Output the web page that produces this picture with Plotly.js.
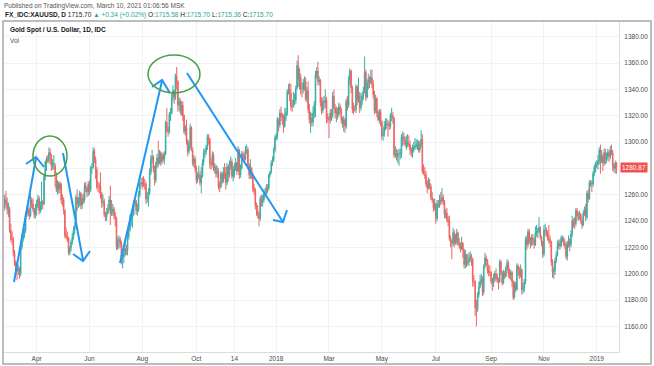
<!DOCTYPE html>
<html>
<head>
<meta charset="utf-8">
<script src="https://cdn.plot.ly/plotly-3.0.1.min.js"></script>
<style>
html,body{margin:0;padding:0;background:#fff;}
#chart{width:654px;height:366px;}
</style>
</head>
<body>
<div id="chart"></div>
<script>
// Daily candles, FX_IDC:XAUUSD, trading days starting 2017-02-24 (weekdays)
const startDate = '2017-02-24';

const open = [
1250,1256,1254,
1248,1249,1233,1226,1226,1216,1209,1203,1202,1204,1200,1220,1226,1229,1233,1245,1249,1247,1244,1256,1253,1249,1245,
1249,1252,1257,1248,1252,1254,1253,1274,1285,1287,1286,1292,1290,1282,1283,1282,1276,1264,1269,1264,
1268,1256,1256,1248,1229,1228,1227,1216,1220,1224,1228,1233,1236,1258,1253,1254,1261,1252,1257,1256,1267,1265,1262,
1268,1264,1280,1281,1293,1287,1279,1266,1266,1266,1261,1254,1255,1245,1243,1246,1249,1256,1246,1247,1249,1244,
1242,1220,1225,1226,1223,1212,1213,1215,1219,1218,1228,1234,1241,1242,1245,1254,1255,1248,1249,1260,1268,
1269,1268,1268,1268,1257,1258,1261,1277,1287,1289,1280,1271,1283,1288,1284,1292,1285,1290,1287,1291,1315,1309,1308,
1321,1322,1334,1339,1334,1350,1346,1328,1331,1323,1328,1320,1308,1311,1301,1293,1297,1311,1294,1284,1287,
1280,1271,1274,1275,1269,1274,1285,1292,1293,1296,1304,1302,1284,1283,1290,1280,1281,1276,1277,1266,1266,1276,
1270,1277,1276,1269,1281,1275,1282,1285,1274,1279,1281,1284,1278,1294,1275,1280,1291,1289,1287,1294,1294,1282,
1275,1280,1275,1265,1263,1252,1248,1245,1242,1257,1254,1256,1261,1262,1266,1265,1275,1277,1284,1286,1294,
1303,1305,1317,1313,1322,1319,1319,1312,1320,1322,1338,1340,1337,1327,1327,1332,1332,1341,1358,1348,1349,1340,1340,
1345,1346,1333,1339,1325,1317,1318,1315,1322,1328,1351,1354,1346,1347,1330,1324,1331,1330,1332,1318,
1318,1317,1322,1320,1335,1326,1322,1323,1321,1327,1324,1317,1314,1317,1312,1331,1328,1347,1354,1341,1325,1325,
1325,1342,1332,1335,1326,1331,1335,1339,1353,1334,1345,1347,1346,1349,1344,1336,1324,1333,1322,1317,1323,
1315,1305,1306,1312,1314,1314,1313,1312,1320,1320,1318,1290,1291,1289,1291,1291,1291,1304,1304,1301,1298,1299,1299,
1298,1294,1292,1294,1296,1297,1298,1299,1294,1298,1302,1278,1276,1275,1268,1265,1269,1266,1258,1256,1250,
1253,1242,1253,1252,1256,1255,1258,1255,1245,1246,1241,1240,1227,1224,1223,1231,1224,1225,1231,1223,1222,1219,
1223,1218,1207,1214,1208,1209,1212,1213,1211,1194,1194,1174,1173,1184,1190,1194,1196,1186,1206,1212,1210,1203,1201,
1201,1194,1193,1197,1200,1196,1196,1194,1209,1201,1193,1200,1198,1204,1208,1200,1199,1201,1194,1182,
1192,1188,1206,1203,1199,1203,1188,1189,1194,1226,1222,1232,1225,1222,1227,1226,1222,1231,1232,1232,1235,1228,1224,
1215,1233,1233,1231,1227,1226,1224,1209,1201,1202,1210,1214,1222,1223,1221,1227,1227,1223,1222,1213,1223,1225,
1222,1230,1240,1238,1238,1248,1244,1244,1245,1240,1237,1246,1249,1243,1261,1257,1269,1269,1268,1276,1281,
1282,1283,1286,1294,1285,1289,1284,1292,1287,1289,1292,1289,1294,1292,1282,1280,1284
];

const high = [
1260,1263,1258,
1254,1251,1238,1232,1228,1218,1210,1209,1207,1205,1222,1230,1233,1235,1247,1250,1252,1250,1261,1258,1257,1250,1253,
1256,1260,1259,1255,1270,1256,1276,1286,1289,1290,1296,1295,1291,1287,1290,1284,1277,1271,1270,1270,
1269,1260,1258,1249,1235,1232,1228,1221,1226,1231,1236,1239,1260,1264,1258,1263,1262,1260,1261,1269,1270,1266,1270,
1271,1282,1284,1296,1295,1289,1281,1270,1269,1277,1262,1260,1257,1247,1250,1253,1259,1267,1256,1253,1251,1247,
1243,1228,1229,1228,1225,1215,1220,1224,1222,1232,1237,1245,1244,1247,1256,1258,1256,1253,1263,1270,1273,
1273,1274,1272,1270,1262,1265,1280,1290,1294,1290,1282,1285,1291,1301,1294,1293,1292,1292,1293,1316,1326,1312,1323,
1326,1337,1343,1340,1352,1357,1347,1334,1333,1331,1331,1321,1313,1317,1302,1301,1314,1312,1296,1290,1289,
1282,1277,1282,1278,1281,1287,1295,1295,1298,1306,1306,1303,1287,1293,1292,1284,1283,1282,1280,1270,1278,1277,
1281,1284,1281,1284,1283,1286,1289,1287,1282,1284,1288,1285,1297,1295,1283,1293,1293,1292,1297,1298,1296,1284,
1287,1281,1277,1268,1265,1254,1252,1247,1259,1260,1260,1264,1265,1268,1268,1276,1278,1286,1289,1296,1305,
1307,1319,1318,1325,1327,1322,1321,1326,1326,1340,1344,1345,1344,1332,1338,1337,1343,1362,1366,1356,1352,1345,1348,
1350,1349,1342,1346,1329,1323,1322,1327,1331,1354,1357,1361,1350,1348,1334,1334,1335,1340,1334,1322,
1320,1325,1325,1338,1340,1329,1327,1326,1330,1329,1326,1319,1320,1318,1333,1335,1350,1356,1355,1343,1330,1328,
1344,1343,1349,1338,1337,1338,1342,1365,1355,1348,1352,1350,1355,1355,1347,1339,1336,1334,1324,1325,1325,
1317,1311,1316,1318,1318,1317,1316,1322,1326,1323,1319,1297,1295,1294,1295,1295,1306,1308,1307,1304,1305,1306,1305,
1301,1296,1298,1300,1303,1302,1302,1301,1301,1309,1306,1283,1281,1278,1271,1273,1272,1268,1262,1257,1257,
1254,1256,1256,1260,1262,1265,1260,1256,1249,1250,1244,1244,1229,1226,1235,1233,1230,1234,1232,1227,1224,1228,
1224,1219,1218,1215,1215,1216,1217,1215,1212,1199,1195,1180,1186,1194,1199,1200,1198,1207,1216,1214,1211,1207,1206,
1202,1197,1200,1202,1204,1200,1197,1211,1210,1202,1203,1202,1206,1211,1210,1204,1203,1202,1195,1194,
1194,1208,1207,1205,1207,1204,1193,1196,1228,1229,1234,1234,1228,1230,1230,1228,1236,1237,1235,1243,1236,1229,1225,
1237,1238,1235,1233,1237,1229,1225,1211,1205,1212,1217,1225,1226,1226,1229,1229,1228,1226,1224,1225,1229,1227,
1233,1244,1242,1243,1250,1250,1247,1248,1246,1243,1248,1251,1253,1263,1264,1271,1271,1271,1278,1283,1285,
1286,1290,1296,1298,1294,1291,1295,1295,1292,1295,1294,1297,1298,1294,1284,1286,1285
];

const low = [
1248,1251,1245,
1243,1231,1224,1222,1213,1206,1200,1195,1199,1196,1198,1218,1224,1227,1231,1243,1244,1241,1243,1250,1247,1242,1242,
1244,1250,1245,1246,1248,1249,1252,1271,1278,1284,1284,1283,1278,1279,1279,1266,1262,1260,1261,1261,
1253,1251,1245,1227,1226,1224,1214,1214,1217,1222,1226,1230,1235,1248,1250,1251,1249,1249,1253,1254,1262,1258,1259,
1260,1262,1276,1280,1284,1272,1264,1262,1261,1257,1250,1251,1243,1240,1240,1245,1248,1237,1244,1244,1241,1236,
1218,1218,1219,1220,1207,1204,1208,1213,1214,1214,1226,1232,1236,1235,1244,1251,1245,1244,1247,1258,1266,
1264,1266,1264,1253,1254,1251,1260,1275,1284,1277,1267,1269,1280,1281,1283,1282,1283,1285,1283,1290,1307,1304,1306,
1316,1321,1331,1329,1332,1340,1323,1324,1321,1320,1316,1306,1305,1298,1289,1291,1295,1293,1282,1281,1277,
1268,1269,1272,1267,1261,1273,1282,1288,1290,1294,1298,1280,1279,1281,1278,1276,1273,1273,1264,1262,1265,1268,
1269,1272,1264,1267,1270,1273,1279,1272,1270,1273,1278,1275,1277,1272,1273,1279,1287,1285,1286,1291,1279,1272,
1272,1272,1262,1260,1249,1244,1242,1236,1240,1251,1251,1254,1258,1259,1261,1263,1273,1276,1282,1285,1292,
1301,1302,1308,1311,1316,1313,1307,1311,1316,1320,1336,1331,1324,1323,1326,1328,1329,1340,1342,1340,1336,1334,1337,
1339,1331,1330,1322,1314,1307,1312,1312,1318,1319,1348,1343,1343,1327,1321,1322,1325,1326,1314,1315,
1303,1314,1316,1318,1325,1318,1315,1317,1319,1321,1314,1311,1308,1307,1310,1324,1326,1343,1337,1322,1321,1323,
1322,1328,1330,1322,1324,1328,1332,1337,1331,1333,1340,1341,1344,1341,1333,1321,1322,1319,1316,1314,1312,
1302,1301,1304,1309,1310,1304,1309,1310,1316,1314,1288,1288,1286,1284,1282,1287,1288,1297,1298,1296,1294,1296,1296,
1290,1289,1288,1292,1294,1295,1294,1292,1292,1296,1276,1275,1272,1266,1261,1264,1264,1256,1254,1247,1248,
1238,1240,1250,1250,1252,1253,1252,1242,1242,1239,1236,1225,1220,1211,1221,1220,1222,1222,1221,1219,1216,1218,
1212,1204,1204,1205,1206,1206,1209,1206,1190,1191,1168,1160,1171,1182,1189,1192,1183,1184,1204,1206,1200,1198,1198,
1192,1187,1190,1194,1194,1193,1188,1193,1199,1191,1192,1196,1197,1202,1197,1196,1195,1190,1180,1181,
1186,1187,1198,1196,1197,1184,1185,1186,1192,1218,1220,1223,1219,1221,1222,1219,1221,1228,1227,1230,1226,1221,1212,
1213,1229,1228,1225,1223,1220,1206,1197,1196,1199,1208,1213,1219,1218,1220,1224,1221,1219,1211,1210,1220,1217,
1220,1228,1235,1234,1236,1241,1240,1241,1238,1234,1236,1244,1240,1241,1254,1256,1266,1262,1266,1274,1277,
1280,1279,1283,1276,1284,1278,1282,1283,1284,1286,1285,1287,1290,1278,1277,1276,1276
];

const close = [
1257,1254,1249,
1249,1233,1226,1226,1216,1209,1203,1202,1204,1200,1220,1226,1229,1233,1245,1249,1247,1244,1256,1253,1249,1245,1249,
1252,1257,1248,1252,1254,1253,1274,1285,1287,1286,1292,1290,1282,1283,1284,1276,1264,1269,1264,1268,
1256,1256,1248,1229,1228,1227,1216,1220,1224,1228,1233,1236,1258,1253,1254,1261,1252,1257,1256,1267,1265,1262,1268,
1264,1280,1281,1293,1287,1279,1266,1266,1266,1261,1254,1255,1245,1243,1246,1249,1256,1246,1247,1249,1244,1242,
1220,1225,1226,1223,1212,1213,1215,1219,1218,1228,1234,1241,1242,1245,1254,1255,1248,1249,1260,1268,1269,
1268,1268,1268,1257,1258,1261,1277,1287,1289,1280,1271,1283,1288,1284,1292,1285,1290,1287,1291,1315,1309,1308,1321,
1322,1334,1339,1334,1350,1346,1328,1331,1323,1328,1320,1308,1311,1301,1293,1297,1311,1294,1284,1287,1280,
1271,1274,1275,1269,1274,1285,1292,1293,1296,1304,1302,1284,1283,1290,1280,1281,1276,1277,1266,1266,1276,1270,
1277,1276,1269,1281,1275,1282,1285,1274,1279,1281,1284,1278,1294,1275,1280,1291,1289,1287,1294,1294,1282,1275,
1280,1275,1265,1263,1252,1248,1245,1242,1257,1254,1256,1261,1262,1266,1265,1275,1277,1284,1286,1294,1303,
1305,1317,1313,1322,1319,1319,1312,1320,1322,1338,1340,1337,1327,1327,1332,1332,1341,1358,1348,1349,1340,1340,1345,
1346,1333,1339,1325,1317,1318,1315,1322,1328,1351,1354,1346,1347,1330,1324,1331,1330,1332,1318,1318,
1317,1322,1320,1335,1326,1322,1323,1321,1327,1324,1317,1314,1317,1312,1331,1328,1347,1354,1341,1325,1325,1325,
1342,1332,1335,1326,1331,1335,1339,1353,1334,1345,1347,1346,1349,1344,1336,1324,1333,1322,1317,1323,1315,
1305,1306,1312,1314,1314,1313,1312,1320,1320,1318,1290,1291,1289,1291,1291,1291,1304,1304,1301,1298,1299,1299,1298,
1294,1292,1294,1296,1297,1298,1299,1294,1298,1302,1278,1276,1275,1268,1265,1269,1266,1258,1256,1250,1253,
1242,1253,1252,1256,1255,1258,1255,1245,1246,1241,1240,1227,1224,1223,1231,1224,1225,1231,1223,1222,1219,1223,
1218,1207,1214,1208,1209,1212,1213,1211,1194,1194,1174,1173,1184,1190,1194,1196,1186,1206,1212,1210,1203,1201,1201,
1194,1193,1197,1200,1196,1196,1194,1209,1201,1193,1200,1198,1204,1208,1200,1199,1201,1194,1182,1192,
1188,1206,1203,1199,1203,1188,1189,1194,1226,1222,1232,1225,1222,1227,1226,1222,1231,1232,1232,1235,1228,1224,1215,
1233,1233,1231,1227,1226,1224,1209,1201,1202,1210,1214,1222,1223,1221,1227,1227,1223,1222,1213,1223,1225,1222,
1230,1240,1238,1238,1248,1244,1244,1245,1240,1237,1246,1249,1243,1261,1257,1269,1269,1268,1276,1281,1282,
1283,1286,1294,1285,1289,1284,1292,1287,1289,1292,1289,1294,1292,1282,1280,1284,1280.87
];

// Axis ticks
const xTickDates = ['2017-04-03','2017-06-01','2017-08-01','2017-10-02','2017-11-14','2018-01-01','2018-03-01','2018-05-01','2018-07-02','2018-09-03','2018-11-01','2019-01-01'];
const xTickText  = ['Apr','Jun','Aug','Oct','14','2018','Mar','May','Jul','Sep','Nov','2019'];
const yTicks = [1160,1180,1200,1220,1240,1260,1280,1300,1320,1340,1360,1380];
const yHiddenTick = 1280; // covered by the last-price label
const lastPrice = 1280.87;

// trading day dates (weekdays)
function tradingDays(start, n) {
  const out = [];
  const d = new Date(start + 'T00:00:00Z');
  while (out.length < n) {
    const w = d.getUTCDay();
    if (w !== 0 && w !== 6) out.push(d.toISOString().slice(0, 10));
    d.setUTCDate(d.getUTCDate() + 1);
  }
  return out;
}
const dates = tradingDays(startDate, close.length);

// pixel -> paper helpers for layout decorations
const W = 654, H = 366, ML = 4, MR = 35, MT = 22, MB = 14;
const PW = W - ML - MR, PH = H - MT - MB;
const px = v => (v - ML) / PW;
const py = v => 1 - (v - MT) / PH;
const FONT = 'Liberation Sans, Arial, sans-serif';

const blue = '#2196f3', green = '#43a047';
function seg(x0, y0, x1, y1, color, w) {
  return {type: 'line', xref: 'paper', yref: 'paper', x0: px(x0), y0: py(y0), x1: px(x1), y1: py(y1),
          line: {color: color, width: w}};
}
function poly(pts, color, w) {
  const d = pts.map((p, i) => (i ? 'L' : 'M') + px(p[0]) + ',' + py(p[1])).join(' ');
  return {type: 'path', xref: 'paper', yref: 'paper', path: d, line: {color: color, width: w}};
}
function ell(cx, cy, rx, ry, color, w) {
  return {type: 'circle', xref: 'paper', yref: 'paper', x0: px(cx - rx), x1: px(cx + rx), y0: py(cy + ry), y1: py(cy - ry),
          line: {color: color, width: w}};
}

const shapes = [
  // outer frame
  {type: 'rect', xref: 'paper', yref: 'paper', x0: px(3), x1: px(651), y0: py(364), y1: py(21),
   line: {color: '#a8a8a8', width: 1.5}, layer: 'above'},
  // hand-drawn blue arrows
  seg(14, 282, 36, 158, blue, 2), poly([[26,164],[36,157],[44,167]], blue, 2),
  seg(63, 153, 83, 260, blue, 2), poly([[73,254],[83,261],[90,251]], blue, 2),
  seg(120, 263, 162, 81, blue, 2), poly([[152,87],[162,80],[170,93]], blue, 2),
  seg(187, 73, 283, 222, blue, 2), poly([[273,220],[283,222],[287,210]], blue, 2),
  // green circles
  ell(50, 156, 17, 20, green, 1.5),
  ell(174, 74, 26, 19, green, 1.5)
];

const teal = '#26a69a', red = '#ef5350';
const annotations = [
  {xref: 'paper', yref: 'paper', x: px(2), y: py(6), xanchor: 'left', yanchor: 'middle', showarrow: false,
   text: 'Published on TradingView.com, March 10, 2021 01:06:56 MSK', font: {family: FONT, size: 6.5, color: '#555'}},
  {xref: 'paper', yref: 'paper', x: px(3), y: py(15), xanchor: 'left', yanchor: 'middle', showarrow: false,
   text: '<b>FX_IDC:XAUUSD, D</b> 1715.70 <span style="color:' + teal + '">▲ +0.34 (+0.02%)</span> O:<span style="color:' + teal + '">1715.58</span> H:<span style="color:' + teal + '">1715.70</span> L:<span style="color:' + teal + '">1715.36</span> C:<span style="color:' + teal + '">1715.70</span>',
   font: {family: FONT, size: 6.5, color: '#222'}},
  {xref: 'paper', yref: 'paper', x: px(8), y: py(30), xanchor: 'left', yanchor: 'middle', showarrow: false,
   text: '<b>Gold Spot / U.S. Dollar, 1D, IDC</b>', font: {family: FONT, size: 6.5, color: '#131722'}},
  {xref: 'paper', yref: 'paper', x: px(8), y: py(40), xanchor: 'left', yanchor: 'middle', showarrow: false,
   text: 'Vol', font: {family: FONT, size: 6.5, color: '#555'}},
  {xref: 'paper', yref: 'y', x: 1, y: lastPrice, xanchor: 'left', yanchor: 'middle', xshift: 1, showarrow: false,
   text: lastPrice.toFixed(2), bgcolor: red, borderpad: 1, font: {family: FONT, size: 6.5, color: '#fff'}}
];

const trace = {
  type: 'candlestick', x: dates, open: open, high: high, low: low, close: close,
  increasing: {line: {color: teal, width: 1}, fillcolor: teal},
  decreasing: {line: {color: red, width: 1}, fillcolor: red},
  whiskerwidth: 0, hoverinfo: 'skip', opacity: 0.9
};

const layout = {
  width: W, height: H,
  margin: {l: ML, r: MR, t: MT, b: MB, pad: 0},
  paper_bgcolor: '#fff', plot_bgcolor: '#fff',
  showlegend: false, hovermode: false,
  font: {family: FONT, size: 6.5, color: '#4a4a4a'},
  xaxis: {
    type: 'date', range: ['2017-02-23 10:00', '2019-01-25 02:30'],
    rangebreaks: [{bounds: ['sat', 'mon']}],
    rangeslider: {visible: false},
    tickmode: 'array', tickvals: xTickDates, ticktext: xTickText,
    showgrid: true, gridcolor: '#f0f2f6', gridwidth: 1,
    showline: true, linecolor: '#dcdcdc', linewidth: 1,
    ticks: '', zeroline: false, tickfont: {family: FONT, size: 6.5, color: '#4a4a4a'}
  },
  yaxis: {
    side: 'right', range: [1140.5, 1391.2],
    tickmode: 'array', tickvals: yTicks,
    ticktext: yTicks.map(v => v === yHiddenTick ? '' : v.toFixed(2)),
    showgrid: true, gridcolor: '#f0f2f6', gridwidth: 1,
    showline: true, linecolor: '#dcdcdc', linewidth: 1,
    ticks: '', ticklabelstandoff: 3, zeroline: false,
    tickfont: {family: FONT, size: 6.5, color: '#4a4a4a'}
  },
  shapes: shapes,
  annotations: annotations
};

Plotly.newPlot('chart', [trace], layout, {staticPlot: true, displayModeBar: false});
</script>
</body>
</html>
